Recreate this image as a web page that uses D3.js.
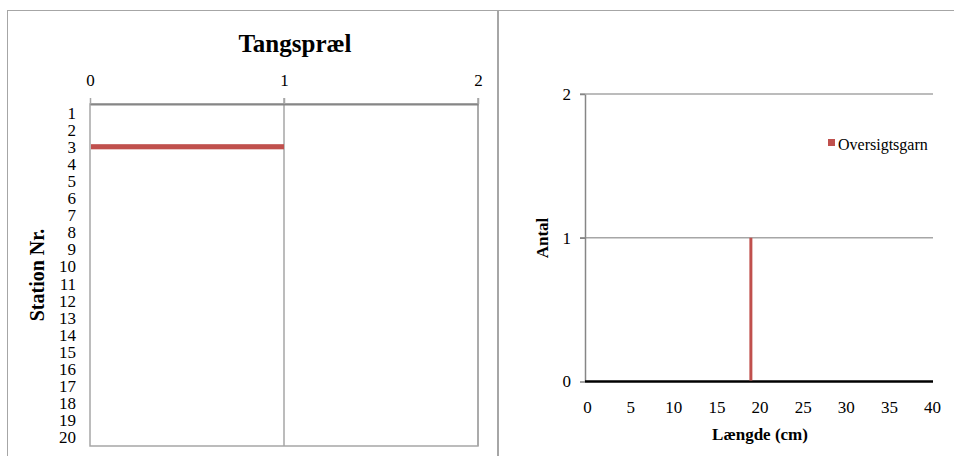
<!DOCTYPE html>
<html>
<head>
<meta charset="utf-8">
<script src="https://cdn.jsdelivr.net/npm/d3@7"></script>
<style>
  html, body { margin: 0; padding: 0; background: #fff; }
  svg { display: block; font-family: "Liberation Serif", "Times New Roman", serif; }
</style>
</head>
<body>
<svg id="chart" width="954" height="456"></svg>
<script>
// Tangspræl catch per station (bar chart, left)
const stations = d3.range(1, 21).map(String);
const stationCounts = [0, 0, 1, 0, 0, 0, 0, 0, 0, 0, 0, 0, 0, 0, 0, 0, 0, 0, 0, 0];
const countTicks = [0, 1, 2];

// Length distribution, Oversigtsgarn (right)
const seriesName = "Oversigtsgarn";
const lengths = [19];
const lengthCounts = [1];
const lengthTicks = [0, 5, 10, 15, 20, 25, 30, 35, 40];
const antalTicks = [0, 1, 2];

const red = "#C0504D";
const serif = "Liberation Serif";
const svg = d3.select("#chart");

// chart frames
svg.append("rect").attr("x", 7.5).attr("y", 10.5).attr("width", 490).attr("height", 460)
  .attr("fill", "none").attr("stroke", "#A6A6A6").attr("stroke-width", 1);
svg.append("rect").attr("x", 498.5).attr("y", 10.5).attr("width", 470).attr("height", 460)
  .attr("fill", "none").attr("stroke", "#A6A6A6").attr("stroke-width", 1);

// ---------- Left: Tangspræl ----------
const L = { left: 90, right: 478, top: 104, bottom: 446 };
const xL = d3.scaleLinear().domain([0, 2]).range([L.left, L.right]);
const yL = d3.scaleBand().domain(stations).range([L.top, L.bottom])
  .paddingInner(0.7).paddingOuter(0.35);

const gL = svg.append("g");

// plot area border
gL.append("rect").attr("x", L.left).attr("y", L.top)
  .attr("width", L.right - L.left).attr("height", L.bottom - L.top)
  .attr("fill", "none").attr("stroke", "#A6A6A6").attr("stroke-width", 1.5);

// vertical gridlines
gL.selectAll(".vgrid").data(countTicks.slice(1)).join("line")
  .attr("x1", d => xL(d)).attr("x2", d => xL(d))
  .attr("y1", L.top - 6).attr("y2", L.bottom)
  .attr("stroke", "#A6A6A6").attr("stroke-width", 1.5);

// top value axis
const axTop = gL.append("g").attr("transform", `translate(0,${L.top})`)
  .call(d3.axisTop(xL).tickValues(countTicks).tickFormat(d3.format("d"))
    .tickSize(6).tickSizeOuter(0).tickPadding(12));
axTop.attr("font-family", serif);
axTop.select(".domain").attr("stroke", "#868686").attr("stroke-width", 2);
axTop.selectAll(".tick line").attr("stroke", "#A6A6A6").attr("stroke-width", 1.5);
axTop.selectAll(".tick text").attr("font-size", 17).attr("fill", "#000");

// category labels
gL.selectAll(".cat").data(stations).join("text")
  .attr("x", 76).attr("y", d => yL(d) + yL.bandwidth() / 2)
  .attr("dy", "0.35em").attr("text-anchor", "end")
  .attr("font-family", serif).attr("font-size", 17).attr("fill", "#000").text(d => d);

// bars
gL.selectAll(".bar").data(stations.map((s, i) => ({ s, v: stationCounts[i] })).filter(d => d.v > 0))
  .join("rect")
  .attr("x", xL(0) + 1).attr("y", d => yL(d.s))
  .attr("width", d => xL(d.v) - xL(0) - 1).attr("height", yL.bandwidth())
  .attr("fill", red);

// title and axis title
gL.append("text").attr("x", 295).attr("y", 52).attr("text-anchor", "middle")
  .attr("font-family", serif).attr("font-size", 25).attr("font-weight", "bold").text("Tangspræl");
gL.append("text").attr("transform", "translate(44,275) rotate(-90)")
  .attr("text-anchor", "middle").attr("font-family", serif)
  .attr("font-size", 20).attr("font-weight", "bold")
  .text("Station Nr.");

// ---------- Right: length distribution ----------
const R = { left: 585, right: 933, top: 94, bottom: 381.5 };
const xR = d3.scaleLinear().domain([0, 40]).range([587, 932]);
const yR = d3.scaleLinear().domain([0, 2]).range([R.bottom, R.top]);

const gR = svg.append("g");

// horizontal gridlines
gR.selectAll(".hgrid").data(antalTicks.slice(1)).join("line")
  .attr("x1", R.left - 5).attr("x2", R.right)
  .attr("y1", d => yR(d)).attr("y2", d => yR(d))
  .attr("stroke", "#A6A6A6").attr("stroke-width", 1.5);

// y axis
const axY = gR.append("g").attr("transform", `translate(${R.left},0)`)
  .call(d3.axisLeft(yR).tickValues(antalTicks).tickFormat(d3.format("d"))
    .tickSize(5).tickSizeOuter(0).tickPadding(9));
axY.attr("font-family", serif);
axY.select(".domain").attr("stroke", "#868686").attr("stroke-width", 1.5);
axY.selectAll(".tick line").attr("stroke", "#868686").attr("stroke-width", 1.5);
axY.selectAll(".tick text").attr("font-size", 17).attr("fill", "#000");

// x axis labels (no ticks)
const axX = gR.append("g").attr("transform", `translate(0,${R.bottom})`)
  .call(d3.axisBottom(xR).tickValues(lengthTicks).tickSize(0).tickPadding(19));
axX.attr("font-family", serif);
axX.select(".domain").remove();
axX.selectAll(".tick text").attr("font-size", 17).attr("fill", "#000");

// zero baseline
gR.append("line").attr("x1", R.left).attr("x2", R.right)
  .attr("y1", yR(0)).attr("y2", yR(0))
  .attr("stroke", "#000").attr("stroke-width", 2.5);

// series drop lines
gR.selectAll(".drop").data(lengths.map((l, i) => ({ l, c: lengthCounts[i] }))).join("line")
  .attr("x1", d => xR(d.l)).attr("x2", d => xR(d.l))
  .attr("y1", d => yR(d.c)).attr("y2", yR(0) - 1)
  .attr("stroke", red).attr("stroke-width", 3);

// legend
gR.append("rect").attr("x", 828).attr("y", 139).attr("width", 7).attr("height", 7).attr("fill", red);
gR.append("text").attr("x", 838).attr("y", 150).attr("font-family", serif)
  .attr("font-size", 16).text(seriesName);

// axis titles
gR.append("text").attr("transform", "translate(548,238) rotate(-90)")
  .attr("text-anchor", "middle").attr("font-family", serif)
  .attr("font-size", 17).attr("font-weight", "bold").text("Antal");
gR.append("text").attr("x", 760).attr("y", 440).attr("text-anchor", "middle")
  .attr("font-family", serif).attr("font-size", 17).attr("font-weight", "bold").text("Længde (cm)");
</script>
</body>
</html>
